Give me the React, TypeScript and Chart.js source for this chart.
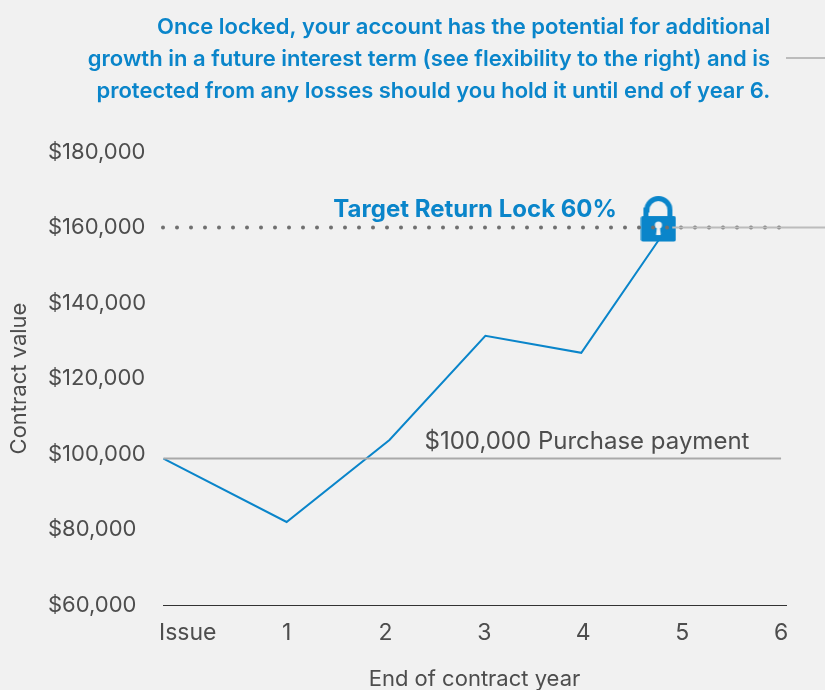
import React, { useEffect, useRef } from "react";
import { Chart, registerables } from "chart.js";

Chart.register(...registerables);

const FONT = "Inter, 'Noto Sans', sans-serif";
const BLUE = "#0a85ca";
const TEXT = "#4d4d4d";

const categories = ["Issue", "1", "2", "3", "4", "5", "6"];
const tickYears = [0, 1, 2, 3, 4, 5, 6];
const yTicks = [60000, 80000, 100000, 120000, 140000, 160000, 180000];

const accountX = [-0.245, 1, 2.04, 3.01, 3.98, 4.85];
const accountY = [98800, 82000, 103700, 131300, 126800, 160000];
const purchaseX = [-0.245, 6];
const purchaseY = [98800, 98800];
const targetX = [-0.25, 5.99];
const targetY = [160000, 160000];
const leaderX = [4.9, 6.445];
const leaderY = [160000, 160000];
const calloutX = [6.05, 6.445];
const calloutY = [204900, 204900];
const lockX = [4.76];
const lockY = [162250];

const calloutLines = [
  "Once locked, your account has the potential for additional",
  "growth in a future interest term (see flexibility to the right) and is",
  "protected from any losses should you hold it until end of year 6.",
];
const targetLabel = "Target Return Lock 60%";
const purchaseLabel = "$100,000 Purchase payment";

function pts(xs: number[], ys: number[]) {
  return xs.map((x, i) => ({ x, y: ys[i] }));
}

function makeLock() {
  const c = document.createElement("canvas");
  c.width = 36;
  c.height = 46;
  const g = c.getContext("2d")!;
  g.strokeStyle = BLUE;
  g.fillStyle = BLUE;
  g.lineWidth = 5;
  g.beginPath();
  g.moveTo(5.5, 22);
  g.lineTo(5.5, 14);
  g.arc(18, 14, 11.5, Math.PI, 0);
  g.lineTo(29.5, 22);
  g.stroke();
  g.beginPath();
  g.roundRect(0.5, 20, 35, 25.5, 2);
  g.fill();
  g.fillStyle = "#f1f1f1";
  g.beginPath();
  g.arc(18, 29, 3.6, 0, Math.PI * 2);
  g.fill();
  g.beginPath();
  g.moveTo(16.6, 30);
  g.lineTo(15.6, 39);
  g.lineTo(20.4, 39);
  g.lineTo(19.4, 30);
  g.fill();
  return c;
}

const annotations = {
  id: "annotations",
  afterDatasetsDraw(chart: any) {
    const { ctx, scales } = chart;
    ctx.save();
    ctx.textBaseline = "middle";
    ctx.textAlign = "right";
    ctx.fillStyle = BLUE;
    ctx.font = `600 22px ${FONT}`;
    const rightX = scales.x.getPixelForValue(5.89);
    const topY = scales.y.getPixelForValue(204650);
    calloutLines.forEach((line, i) => {
      ctx.fillText(line, rightX, topY + (i - 1) * 32);
    });
    ctx.font = `700 24px ${FONT}`;
    ctx.fillText(targetLabel, scales.x.getPixelForValue(4.34), scales.y.getPixelForValue(164800));
    ctx.font = `400 24px ${FONT}`;
    ctx.fillStyle = TEXT;
    ctx.fillText(purchaseLabel, scales.x.getPixelForValue(5.68), scales.y.getPixelForValue(103300));
    ctx.restore();
  },
};

export default function App() {
  const ref = useRef<HTMLCanvasElement>(null);
  useEffect(() => {
    const chart = new Chart(ref.current!, {
      type: "line",
      plugins: [annotations],
      data: {
        datasets: [
          { label: "Purchase payment", data: pts(purchaseX, purchaseY), borderColor: "#a9a9a9", borderWidth: 2, pointRadius: 0 },
          { label: "Leader", data: pts(leaderX, leaderY), borderColor: "#bcbcbc", borderWidth: 2, pointRadius: 0, clip: false },
          { label: "Callout", data: pts(calloutX, calloutY), borderColor: "#bcbcbc", borderWidth: 2, pointRadius: 0, clip: false },
          {
            label: "Target",
            data: pts(targetX, targetY),
            borderColor: "#707070",
            borderWidth: 4,
            borderDash: [0, 14],
            borderCapStyle: "round",
            pointRadius: 0,
            clip: false,
          },
          { label: "Contract value", data: pts(accountX, accountY), borderColor: BLUE, borderWidth: 2, pointRadius: 0, borderJoinStyle: "miter" },
          { label: "Lock", data: pts(lockX, lockY), showLine: false, pointStyle: makeLock() as any, pointRadius: 20 },
        ] as any,
      },
      options: {
        animation: false,
        responsive: false,
        layout: { padding: { left: 48, right: 39, top: 152, bottom: 0 } },
        plugins: { legend: { display: false }, tooltip: { enabled: false }, title: { display: false } },
        scales: {
          x: {
            type: "linear",
            min: -0.25,
            max: 6.05,
            grid: { display: false, drawTicks: false },
            border: { display: true, color: "#333333", width: 1 },
            afterFit: (s: any) => { s.height = 85; },
            afterBuildTicks: (s: any) => { s.ticks = tickYears.map((value) => ({ value })); },
            ticks: {
              autoSkip: false,
              maxRotation: 0,
              padding: 14,
              color: TEXT,
              font: { family: FONT, size: 23 },
              callback: (v: any) => categories[v],
            },
            title: {
              display: true,
              text: "End of contract year",
              color: TEXT,
              font: { family: FONT, size: 22 },
              padding: { top: 0, bottom: -3 },
            },
          },
          y: {
            type: "linear",
            min: 60000,
            max: 180000,
            grid: { display: false, drawTicks: false },
            border: { display: false },
            afterFit: (s: any) => { s.width = 115; },
            afterBuildTicks: (s: any) => { s.ticks = yTicks.map((value) => ({ value })); },
            ticks: {
              crossAlign: "far",
              color: TEXT,
              font: { family: FONT, size: 22 },
              callback: (v: any) => "$" + Number(v).toLocaleString("en-US"),
            },
            title: {
              display: true,
              text: "Contract value",
              color: TEXT,
              font: { family: FONT, size: 22 },
              padding: { top: -41.5, bottom: 0 },
            },
          },
        },
      } as any,
    });
    return () => chart.destroy();
  }, []);
  return (
    <div style={{ position: "fixed", inset: 0, background: "#f1f1f1" }}>
      <canvas ref={ref} width={825} height={690} style={{ display: "block" }} />
    </div>
  );
}
